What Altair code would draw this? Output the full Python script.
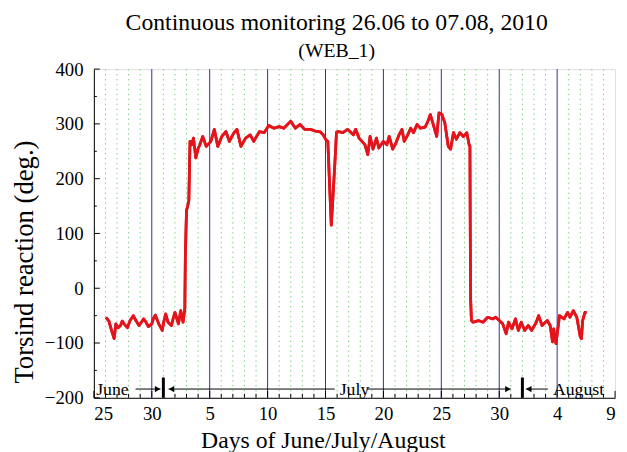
import json
import altair as alt
import pandas as pd

# ---------------- data ----------------
days = [26.04, 26.3, 26.5, 26.75, 26.9, 27.1, 27.3, 27.45, 27.6, 27.9, 28.1, 28.4, 28.6, 28.9,
        29.1, 29.3, 29.5, 29.7, 30.0, 30.15, 30.3, 30.6, 30.9, 31.05, 31.2, 31.4, 31.7, 31.85,
        32.0, 32.3, 32.5, 32.7, 32.85, 32.9, 32.95, 33.0, 33.1, 33.2, 33.3, 33.45, 33.6, 33.8,
        34.0, 34.15, 34.4, 34.7, 35.1, 35.4, 35.7, 36.05, 36.4, 36.7, 37.1, 37.35, 37.7, 38.1,
        38.5, 38.8, 39.3, 39.7, 40.1, 40.55, 41.0, 41.4, 42.0, 42.4, 42.8, 43.2, 43.7, 44.1,
        44.5, 44.8, 45.0, 45.2, 45.35, 45.5, 45.65, 45.8, 45.95, 46.1, 46.5, 46.9, 47.4, 47.6,
        47.9, 48.4, 48.65, 48.85, 49.1, 49.4, 49.6, 50.0, 50.3, 50.5, 50.8, 51.1, 51.35, 51.6,
        51.8, 52.1, 52.35, 52.6, 52.9, 53.2, 53.6, 53.85, 54.05, 54.3, 54.6, 54.8, 55.05, 55.3,
        55.6, 55.8, 56.05, 56.3, 56.6, 56.9, 57.2, 57.4, 57.47, 57.5, 57.53, 57.6, 57.75, 58.2,
        58.6, 59.0, 59.45, 59.7, 60.0, 60.3, 60.6, 60.8, 61.1, 61.4, 61.65, 61.9, 62.2, 62.5,
        62.8, 63.2, 63.4, 63.7, 64.15, 64.4, 64.6, 64.7, 64.9, 65.1, 65.2, 65.6, 65.9, 66.1,
        66.4, 66.7, 67.0, 67.1, 67.2, 67.4, 67.55]
torsion = [-53, -60, -75, -92, -65, -72, -68, -60, -65, -72, -60, -50, -58, -68,
           -62, -56, -62, -70, -65, -55, -49, -65, -77, -60, -47, -62, -68, -55,
           -44, -65, -41, -62, -38, 60, 103, 142, 150, 160, 268, 262, 274, 238,
           255, 262, 277, 259, 268, 290, 259, 277, 286, 268, 284, 290, 259, 274,
           280, 268, 286, 284, 297, 292, 295, 292, 305, 292, 299, 290, 290, 287,
           286, 280, 272, 268, 190, 115, 170, 225, 285, 286, 284, 290, 280, 290,
           274, 262, 244, 277, 254, 274, 256, 268, 262, 277, 254, 266, 280, 290,
           268, 280, 292, 284, 299, 292, 294, 305, 317, 299, 277, 320, 317, 302,
           259, 254, 284, 272, 284, 277, 284, 262, 259, 100, -20, -59, -62, -59,
           -62, -53, -56, -53, -59, -65, -83, -62, -74, -56, -77, -62, -77, -68,
           -77, -62, -50, -68, -59, -68, -98, -74, -101, -68, -50, -56, -44, -53,
           -41, -53, -89, -92, -59, -44, -44]

x_tick_values = [25, 30, 35, 40, 45, 50, 55, 60, 65, 70]
x_tick_labels = ["25", "30", "5", "10", "15", "20", "25", "30", "4", "9"]
x_minor_days = [d for d in range(26, 70) if d % 5 != 0]
blue_line_days = [30, 35, 40, 45, 50, 55, 60, 65]
green_grid_days = [d for d in range(26, 70) if d % 5 != 0]
y_tick_values = [-200, -100, 0, 100, 200, 300, 400]
y_minor_values = [-150, -50, 50, 150, 250, 350]

month_names = ["June", "July", "August"]
month_label_day = [26.6, 47.5, 66.85]
annot_y = -184
arrow_start = [28.6, 31.45, 48.55, 62.3]
arrow_end = [30.75, 45.8, 61.0, 64.2]
arrow_dir = ["right", "left", "right", "left"]
month_bounds = [31, 62]
bound_top = -163

X_DOMAIN = [25, 70]
Y_DOMAIN = [-200, 400]
W, H = 528, 333
FONT = "Liberation Serif"

# ---------------- scales / axes ----------------
series = pd.DataFrame({"day": days, "torsion": torsion})
xs = alt.Scale(domain=X_DOMAIN, nice=False, zero=False)
ys = alt.Scale(domain=Y_DOMAIN, nice=False, zero=False)

label_expr = f"{json.dumps(x_tick_labels)}[indexof({json.dumps(x_tick_values)}, datum.value)]"

x_axis = alt.Axis(values=x_tick_values, labelExpr=label_expr, ticks=False, tickSize=0,
                  grid=False, domainColor="black", domainWidth=1,
                  labelFont=FONT, labelFontSize=19, labelColor="black", labelPadding=7,
                  title="Days of June/July/August", titleFont=FONT, titleFontSize=24,
                  titleFontWeight="normal", titleColor="black",
                  titleX=232, titleY=50, titleBaseline="alphabetic", titleAlign="center")
y_axis = alt.Axis(values=y_tick_values, ticks=False, tickSize=0, grid=False,
                  domainColor="black", domainWidth=1,
                  labelFont=FONT, labelFontSize=19, labelColor="black", labelPadding=11,
                  title="Torsind reaction (deg.)", titleFont=FONT, titleFontSize=27,
                  titleFontWeight="normal", titleColor="black",
                  titleX=-70, titleY=195, titleBaseline="middle", titleAlign="center",
                  titleAngle=270)


def X(field):
    return alt.X(field, scale=xs, axis=x_axis)


def Y(field):
    return alt.Y(field, scale=ys, axis=y_axis)


green = alt.Chart(pd.DataFrame({"day": green_grid_days})).mark_rule(
    color="#86cc86", strokeWidth=1, strokeDash=[1.5, 3.5]
).encode(x=X("day:Q"), y=alt.value(0), y2=alt.value(H))

blue = alt.Chart(pd.DataFrame({"day": blue_line_days})).mark_rule(
    color="#2e3192", strokeWidth=1
).encode(x=X("day:Q"), y=alt.value(0), y2=alt.value(H))

line = alt.Chart(series).mark_line(color="#e3141b", strokeWidth=2.8, strokeJoin="round").encode(
    x=X("day:Q"), y=Y("torsion:Q"))

xmaj = alt.Chart(pd.DataFrame({"day": x_tick_values})).mark_rule(color="black").encode(
    x=X("day:Q"), y=alt.value(H), y2=alt.value(H - 7))
xmin = alt.Chart(pd.DataFrame({"day": x_minor_days})).mark_rule(color="black").encode(
    x=X("day:Q"), y=alt.value(H), y2=alt.value(H - 4))
ymaj = alt.Chart(pd.DataFrame({"v": y_tick_values})).mark_rule(color="black").encode(
    y=Y("v:Q"), x=alt.value(0), x2=alt.value(6))
ymin = alt.Chart(pd.DataFrame({"v": y_minor_values})).mark_rule(color="black").encode(
    y=Y("v:Q"), x=alt.value(0), x2=alt.value(3))

arrows = pd.DataFrame({"x1": arrow_start, "x2": arrow_end, "y": annot_y})
arrow_lines = alt.Chart(arrows).mark_rule(color="black", strokeWidth=1).encode(
    x=X("x1:Q"), x2="x2:Q", y=Y("y:Q"))
heads = pd.DataFrame({
    "hx": [e - 0.25 if d == "right" else s + 0.25 for s, e, d in zip(arrow_start, arrow_end, arrow_dir)],
    "shape": ["triangle-right" if d == "right" else "triangle-left" for d in arrow_dir],
    "y": annot_y,
})
arrow_heads = alt.Chart(heads).mark_point(filled=True, color="black", size=40, opacity=1).encode(
    x=X("hx:Q"), y=Y("y:Q"), shape=alt.Shape("shape:N", scale=None))

bounds = pd.DataFrame({"day": month_bounds, "y1": Y_DOMAIN[0], "y2": bound_top})
bound_rules = alt.Chart(bounds).mark_rule(color="black", strokeWidth=3).encode(
    x=X("day:Q"), y=Y("y1:Q"), y2="y2:Q")

months = pd.DataFrame({"day": month_label_day, "name": month_names, "y": annot_y})
month_text = alt.Chart(months).mark_text(font=FONT, fontSize=18, color="black",
                                         baseline="middle", align="center", dy=1).encode(
    x=X("day:Q"), y=Y("y:Q"), text="name:N")

chart = alt.layer(
    line, green, blue, xmaj, xmin, ymaj, ymin, arrow_lines, arrow_heads, bound_rules, month_text,
    line,
).properties(
    width=W, height=H,
    autosize=alt.AutoSizeParams(type="none"),
    padding={"left": 87, "top": 59, "right": 4, "bottom": 52},
    title=alt.TitleParams(
        text="Continuous monitoring 26.06 to 07.08, 2010",
        subtitle="(WEB_1)",
        font=FONT, fontSize=24, fontWeight="normal", color="black",
        subtitleFont=FONT, subtitleFontSize=20, subtitleColor="black",
        anchor="middle", dx=-18, offset=-1, subtitlePadding=7,
    ),
).configure_view(stroke=None).configure(background="white")

chart.save("out.html", embed_options={"renderer": "svg", "actions": False})
